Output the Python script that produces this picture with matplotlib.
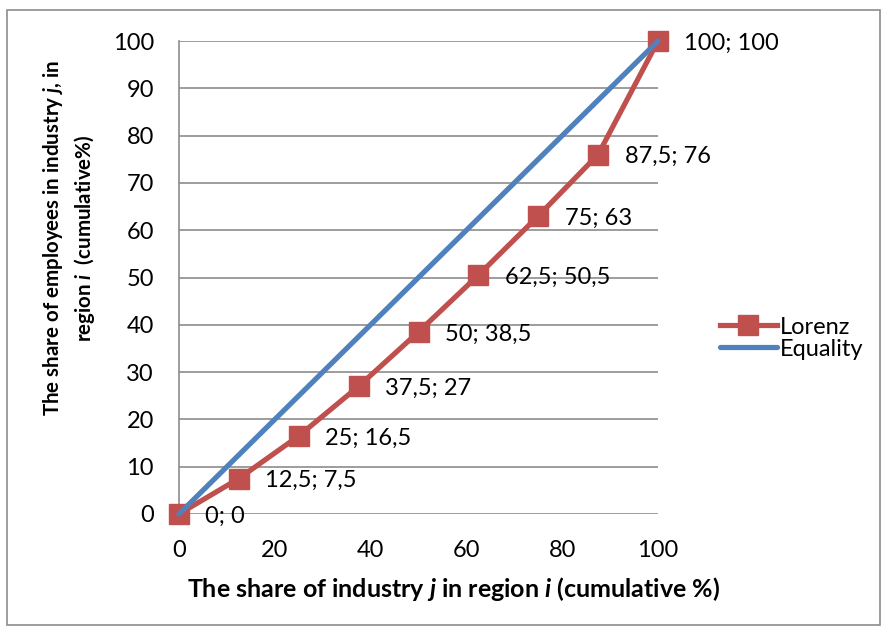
import matplotlib
matplotlib.use("Agg")
import matplotlib.pyplot as plt
from matplotlib.patches import Rectangle

plt.rcParams['font.family'] = ['Lato', 'DejaVu Sans']
plt.rcParams['mathtext.fontset'] = 'custom'
plt.rcParams['mathtext.rm'] = 'Lato:bold'
plt.rcParams['mathtext.bfit'] = 'Lato:bold:italic'

lorenz_x = [0, 12.5, 25, 37.5, 50, 62.5, 75, 87.5, 100]
lorenz_y = [0, 7.5, 16.5, 27, 38.5, 50.5, 63, 76, 100]
point_labels = ['0; 0', '12,5; 7,5', '25; 16,5', '37,5; 27', '50; 38,5',
                '62,5; 50,5', '75; 63', '87,5; 76', '100; 100']
equality_x = [0, 100]
equality_y = [0, 100]
ticks_x = [0, 20, 40, 60, 80, 100]
ticks_y = [0, 10, 20, 30, 40, 50, 60, 70, 80, 90, 100]

red = '#C0504D'
blue = '#4F81BD'
grid = '#8C8C8C'
fs = 17

fig = plt.figure(figsize=(8.82, 6.31), dpi=100)
fig.patches.append(Rectangle((7 / 882, 6 / 631), 873 / 882, 615 / 631,
                             transform=fig.transFigure, fill=False,
                             edgecolor='#8C8C8C', linewidth=1.2))

ax = fig.add_axes([179 / 882, 1 - 514 / 631, (658 - 179) / 882, (514 - 41) / 631])
ax.set_xlim(0, 100)
ax.set_ylim(0, 100)
ax.set_xticks(ticks_x)
ax.set_yticks(ticks_y)
ax.tick_params(length=0, labelsize=fs)
ax.tick_params(axis='y', pad=18)
ax.tick_params(axis='x', pad=19)
for side in ['top', 'right', 'bottom']:
    ax.spines[side].set_visible(False)
ax.spines['left'].set_color(grid)
ax.spines['left'].set_linewidth(1.2)
ax.grid(axis='y', color=grid, linewidth=1.2)
ax.set_axisbelow(True)

ax.plot(lorenz_x, lorenz_y, color=red, lw=3.75, marker='s', markersize=14,
        label='Lorenz', clip_on=False, zorder=3)
ax.plot(equality_x, equality_y, color=blue, lw=3.75, label='Equality',
        clip_on=False, zorder=4, solid_capstyle='round')

for x, y, t in zip(lorenz_x, lorenz_y, point_labels):
    ax.annotate(t, (x, y), xytext=(19, -1.5), textcoords='offset points',
                va='center', ha='left', fontsize=fs)

ax.legend(loc='center left', bbox_to_anchor=(1.085, 0.372), frameon=False,
          fontsize=17, handlelength=2.4, labelspacing=0.04, handletextpad=0.15)

ax.set_xlabel(r'The share of industry $\mathbfit{j}$ in region $\mathbfit{i}$ (cumulative %)',
              fontsize=18, fontweight='bold')
ax.xaxis.set_label_coords(0.574, -0.128)
ax.set_ylabel('The share of employees in industry $\\mathbfit{j}$, in\n'
              'region $\\mathbfit{i}$  (cumulative%)',
              fontsize=14.8, fontweight='bold', linespacing=1.38)
ax.yaxis.set_label_coords(-0.171, 0.583)

fig.savefig('out.png', dpi=100)
